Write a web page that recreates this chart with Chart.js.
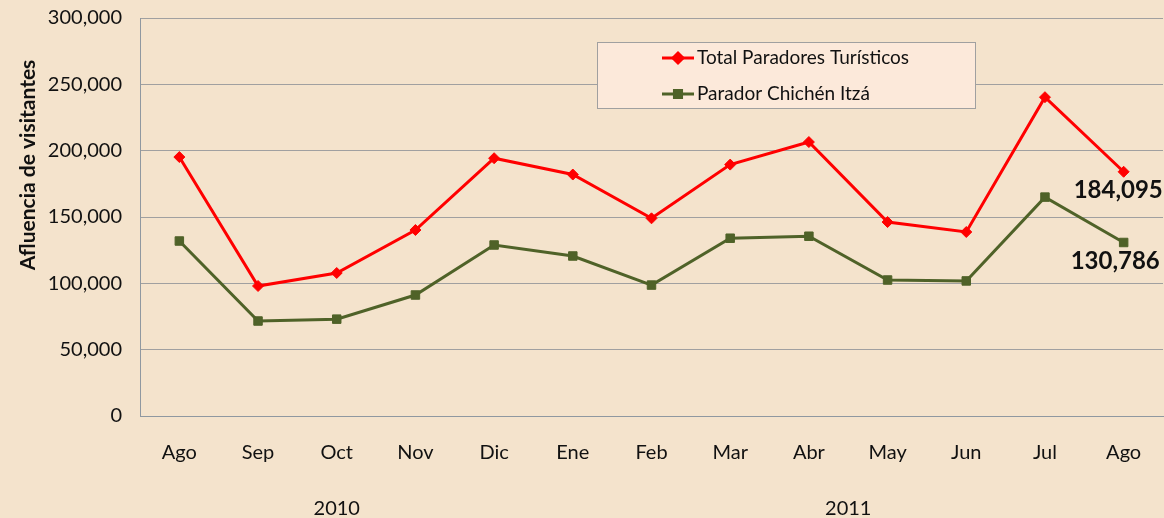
<!DOCTYPE html>
<html>
<head>
<meta charset="utf-8">
<script src="https://cdn.jsdelivr.net/npm/chart.js@4/dist/chart.umd.min.js"></script>
<style>
html,body{margin:0;padding:0;background:#f4e3cc;}
#wrap{width:1164px;height:518px;position:relative;}
</style>
</head>
<body>
<div id="wrap"><canvas id="c" width="1164" height="518"></canvas></div>
<script>
const categories = ["Ago","Sep","Oct","Nov","Dic","Ene","Feb","Mar","Abr","May","Jun","Jul","Ago"];
const totalParadores = [195200, 98000, 107800, 140200, 194300, 182000, 149000, 189500, 206500, 146200, 138700, 240300, 184095];
const chichenItza = [131900, 71600, 73000, 91200, 128900, 120600, 98700, 134000, 135500, 102500, 101800, 165000, 130786];
const seriesNames = ["Total Paradores Turísticos", "Parador Chichén Itzá"];
const yearGroups = [{label:"2010", from:0, to:4},{label:"2011", from:5, to:12}];
const yTicks = [0, 50000, 100000, 150000, 200000, 250000, 300000];
const axisTitle = "Afluencia de visitantes";

const FONT = "Lato, 'Open Sans', sans-serif";
const fmt = v => v.toLocaleString('en-US');

const extras = {
  id: 'extras',
  afterDatasetsDraw(chart) {
    const ctx = chart.ctx;
    const x = chart.scales.x, y = chart.scales.y;
    ctx.save();
    // axis title
    ctx.save();
    ctx.translate(28, 165);
    ctx.rotate(-Math.PI/2);
    ctx.font = "bold 21px " + FONT;
    ctx.fillStyle = "#111";
    ctx.textAlign = "center";
    ctx.textBaseline = "middle";
    ctx.fillText(axisTitle, 0, 0);
    ctx.restore();
    // year labels
    ctx.font = "20px " + FONT;
    ctx.fillStyle = "#111";
    ctx.textAlign = "center";
    ctx.textBaseline = "middle";
    yearGroups.forEach(g => {
      const cx = (x.getPixelForValue(g.from) + x.getPixelForValue(g.to)) / 2;
      ctx.fillText(g.label, cx, 509);
    });
    // last-point labels
    ctx.font = "bold 24px " + FONT;
    ctx.textAlign = "left";
    const li = categories.length - 1;
    const px = x.getPixelForValue(li);
    ctx.fillText(fmt(totalParadores[li]), px - 50, y.getPixelForValue(totalParadores[li]) + 18);
    ctx.fillText(fmt(chichenItza[li]), px - 53, y.getPixelForValue(chichenItza[li]) + 19);
    // legend
    ctx.fillStyle = "#fce9da";
    ctx.strokeStyle = "#a0a0a0";
    ctx.lineWidth = 1;
    ctx.fillRect(597.5, 42.5, 378, 66);
    ctx.strokeRect(597.5, 42.5, 378, 66);
    const items = [
      {name: seriesNames[0], color: "#ff0000", style: "rectRot", r: 5, yy: 58},
      {name: seriesNames[1], color: "#4f6228", style: "rect", r: 5, yy: 94}
    ];
    items.forEach(it => {
      ctx.strokeStyle = it.color;
      ctx.lineWidth = 3;
      ctx.beginPath();
      ctx.moveTo(662, it.yy); ctx.lineTo(694, it.yy); ctx.stroke();
      ctx.fillStyle = it.color;
      Chart.helpers.drawPoint(ctx, {pointStyle: it.style, radius: it.r, borderWidth: 1}, 678, it.yy);
      ctx.fillStyle = "#111";
      ctx.font = "19px " + FONT;
      ctx.textAlign = "left";
      ctx.textBaseline = "middle";
      ctx.fillText(it.name, 697, it.yy);
    });
    ctx.restore();
  }
};

new Chart(document.getElementById('c'), {
  type: 'line',
  data: {
    labels: categories,
    datasets: [
      {label: seriesNames[0], data: totalParadores, borderColor: "#ff0000", backgroundColor: "#ff0000",
       borderWidth: 3, pointStyle: 'rectRot', pointRadius: 5.5, pointBorderWidth: 1, tension: 0},
      {label: seriesNames[1], data: chichenItza, borderColor: "#4f6228", backgroundColor: "#4f6228",
       borderWidth: 3, pointStyle: 'rect', pointRadius: 6, pointBorderWidth: 1, tension: 0}
    ]
  },
  options: {
    responsive: false,
    animation: false,
    events: [],
    layout: {autoPadding: false, padding: {top: 18, right: 1, left: 0, bottom: 0}},
    plugins: {legend: {display: false}, tooltip: {enabled: false}},
    scales: {
      x: {
        offset: true,
        grid: {display: false, drawTicks: false},
        border: {color: "#8f98a0", width: 1},
        ticks: {color: "#111", font: {family: FONT, size: 20}, padding: 25, maxRotation: 0, autoSkip: false},
        afterFit(s) { s.height = 102; s.paddingLeft = 0; s.paddingRight = 0; }
      },
      y: {
        min: 0, max: 300000,
        afterBuildTicks(s) { s.ticks = yTicks.map(v => ({value: v})); },
        grid: {color: "#a0a0a0", lineWidth: 1, drawTicks: false},
        border: {color: "#8f98a0", width: 1},
        ticks: {color: "#111", font: {family: FONT, size: 20}, padding: 18, callback: v => fmt(v)},
        afterFit(s) { s.width = 140; s.paddingTop = 0; s.paddingBottom = 0; }
      }
    }
  },
  plugins: [extras]
});
</script>
</body>
</html>
